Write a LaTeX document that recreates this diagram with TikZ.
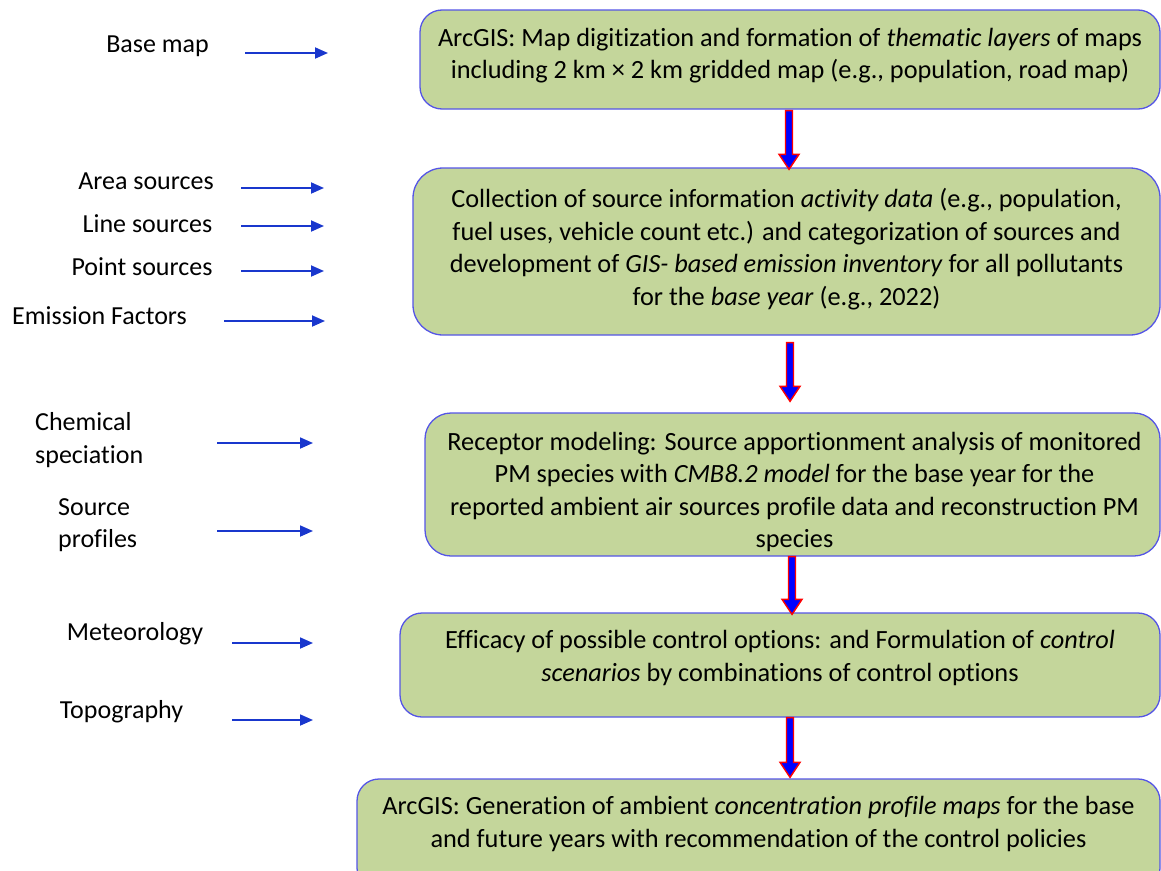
\documentclass[tikz,border=0pt]{standalone}
\usepackage{fontspec}
\setmainfont{Carlito}[Ligatures=NoCommon]
\usetikzlibrary{calc,arrows.meta}
\definecolor{boxfill}{RGB}{196,214,155}
\definecolor{boxline}{RGB}{85,85,230}
\definecolor{arrblue}{RGB}{25,55,205}
\newcommand\fatarr[2]{\draw[fatarrow] let \p1=(#1), \p2=(#2) in (\x1-3.5pt,\y1) -- (\x1+3.5pt,\y1) -- (\x1+3.5pt,\y2+15pt) -- (\x1+10pt,\y2+15pt) -- (\x1,\y2) -- (\x1-10pt,\y2+15pt) -- (\x1-3.5pt,\y2+15pt) -- cycle;}
\begin{document}
\begin{tikzpicture}[x=1pt,y=-1pt,
 box/.style={draw=boxline, line width=1.3pt, fill=boxfill, rounded corners=22pt, inner sep=0pt},
 txt/.style={align=center, font=\fontsize{26.3}{32.5}\selectfont, inner sep=0pt},
 lab/.style={font=\fontsize{26}{32.5}\selectfont, inner sep=0pt, align=left},
 inarrow/.style={draw=arrblue, line width=1.8pt, -{Triangle[length=13pt,width=11pt]}},
 fatarrow/.style={draw=red, fill=blue, line width=1.4pt, line join=miter},
]
\useasboundingbox (0,0) rectangle (1161,870);
\clip (0,0) rectangle (1161,870);

% boxes
\node[box, minimum width=740pt, minimum height=99pt] (b1) at (790,59.5) {};
\node[txt] (t1) at ($(b1.center)+(0,-4)$) {ArcGIS: Map digitization and formation of \textit{thematic layers} of maps\\including 2 km × 2 km gridded map (e.g., population, road map)};

\node[box, minimum width=747pt, minimum height=167pt, rounded corners=30pt] (b2) at (786.5,251.5) {};
\node[txt] (t2) at ($(b2.center)+(0,-2.5)$) {Collection of source information \textit{activity data} (e.g., population,\\fuel uses, vehicle count etc.) and categorization of sources and\\development of \textit{GIS- based emission inventory} for all pollutants\\for the \textit{base year} (e.g., 2022)};

\node[box, minimum width=735pt, minimum height=143pt, rounded corners=26pt] (b3) at (792.5,484.5) {};
\node[txt] (t3) at ($(b3.center)+(2,7.5)$) {Receptor modeling: Source apportionment analysis of monitored\\PM species with \textit{CMB8.2 model} for the base year for the\\reported ambient air sources profile data and reconstruction PM\\species};

\node[box, minimum width=760pt, minimum height=104pt] (b4) at (780,665) {};
\node[txt] (t4) at ($(b4.center)+(0,-7)$) {Efficacy of possible control options: and Formulation of \textit{control}\\\textit{scenarios} by combinations of control options};

\node[box, minimum width=803pt, minimum height=111pt] (b5) at (758.5,834.5) {};
\node[txt] (t5) at ($(b5.center)+(0,-10.5)$) {ArcGIS: Generation of ambient \textit{concentration profile maps} for the base\\and future years with recommendation of the control policies};

% fat arrows
\coordinate (f1) at (789,0);
\coordinate (f2) at (790,0);
\coordinate (f3) at (792,0);
\coordinate (f4) at (790,0);
\fatarr{$(b1.south -| f1)+(0,1)$}{$(b2.north -| f1)+(0,2)$}
\fatarr{$(b2.south -| f2)+(0,7)$}{$(b3.north -| f2)+(0,-11)$}
\fatarr{$(b3.south -| f3)+(0,0)$}{$(b4.north -| f3)+(0,2)$}
\fatarr{$(b4.south -| f4)+(0,0)$}{$(b5.north -| f4)+(0,-1)$}

% left labels
\node[lab] (l1) at (157.5,46) {Base map};
\node[lab] (l2) at (146,181) {Area sources};
\node[lab] (l3) at (147.5,224) {Line sources};
\node[lab] (l4) at (142,267) {Point sources};
\node[lab] (l5) at (99.5,316) {Emission Factors};
\node[lab, anchor=west] (l6) at (35,440) {Chemical\\speciation};
\node[lab, anchor=west] (l7) at (58,525) {Source\\profiles};
\node[lab] (l8) at (135,634) {Meteorology};
\node[lab] (l9) at (121.5,712) {Topography};

% input arrows
\coordinate (a1s) at (245,53);  \coordinate (a1e) at (328,53);
\coordinate (a2s) at (241,188); \coordinate (a2e) at (324,188);
\coordinate (a3s) at (241,226); \coordinate (a3e) at (324,226);
\coordinate (a4s) at (241,271); \coordinate (a4e) at (324,271);
\coordinate (a5s) at (224,321); \coordinate (a5e) at (325,321);
\coordinate (a6s) at (217,443); \coordinate (a6e) at (313,443);
\coordinate (a7s) at (217,531); \coordinate (a7e) at (313,531);
\coordinate (a8s) at (232,643); \coordinate (a8e) at (313,643);
\coordinate (a9s) at (232,720); \coordinate (a9e) at (313,720);
\foreach \i in {1,...,9} {\draw[inarrow] (a\i s) -- (a\i e);}
\end{tikzpicture}
\end{document}
